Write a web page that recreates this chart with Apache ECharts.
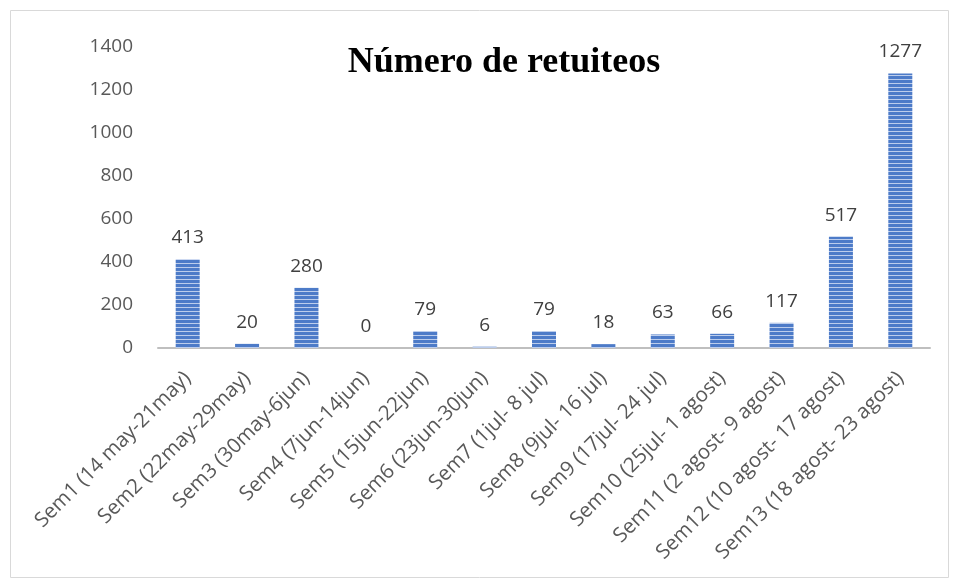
<!DOCTYPE html>
<html>
<head>
<meta charset="utf-8">
<script src="https://cdn.jsdelivr.net/npm/echarts@6/dist/echarts.min.js"></script>
<style>
  html, body { margin: 0; padding: 0; background: #fff; }
  #main { width: 959px; height: 580px; }
</style>
</head>
<body>
<div id="main"></div>
<script>
var semanas = ['Sem1 (14 may-21may)', 'Sem2 (22may-29may)', 'Sem3 (30may-6jun)', 'Sem4 (7jun-14jun)',
    'Sem5 (15jun-22jun)', 'Sem6 (23jun-30jun)', 'Sem7 (1jul- 8 jul)', 'Sem8 (9jul- 16 jul)',
    'Sem9 (17jul- 24 jul)', 'Sem10 (25jul- 1 agost)', 'Sem11 (2 agost- 9 agost)',
    'Sem12 (10 agost- 17 agost)', 'Sem13 (18 agost- 23 agost)'];
var retuiteos = [413, 20, 280, 0, 79, 6, 79, 18, 63, 66, 117, 517, 1277];

// rayas horizontales de las barras
var cv = document.createElement('canvas');
cv.width = 4; cv.height = 4;
var cx = cv.getContext('2d');
cx.fillStyle = '#4d7bc8';
cx.fillRect(0, 0, 4, 3);
cx.fillStyle = '#bccdec';
cx.fillRect(0, 3, 4, 1);

var fuente = 'Open Sans';

var ec = echarts.init(document.getElementById('main'));
ec.setOption({
    animation: false,
    title: {
        text: 'Número de retuiteos',
        left: 499, top: 40, textAlign: 'center',
        textStyle: { fontFamily: 'Liberation Serif', fontSize: 36, fontWeight: 'bold', color: '#000' }
    },
    graphic: [{
        type: 'rect', shape: { x: 10.5, y: 10.5, width: 938, height: 567 },
        style: { fill: 'none', stroke: '#d9d9d9', lineWidth: 1 }
    }],
    grid: { left: 158, right: 29, top: 47, bottom: 232 },
    xAxis: {
        type: 'category',
        data: semanas,
        axisLine: { lineStyle: { color: '#bfbfbf', width: 2 } },
        axisTick: { show: false },
        axisLabel: {
            rotate: 45, interval: 0, margin: 27,
            fontFamily: fuente, fontSize: 20.5, color: '#595959'
        }
    },
    yAxis: {
        type: 'value', min: 0, max: 1400, interval: 200,
        splitLine: { show: false },
        axisLine: { show: false },
        axisTick: { show: false },
        axisLabel: {
            margin: 25, fontFamily: fuente, fontSize: 19, color: '#595959',
            formatter: function (v) { return String(v); }
        }
    },
    series: [{
        type: 'bar',
        data: retuiteos,
        barWidth: 24,
        itemStyle: { color: { image: cv, repeat: 'repeat' } },
        label: {
            show: true, position: 'top', distance: 12,
            fontFamily: fuente, fontSize: 19, color: '#404040'
        }
    }]
});
</script>
</body>
</html>
